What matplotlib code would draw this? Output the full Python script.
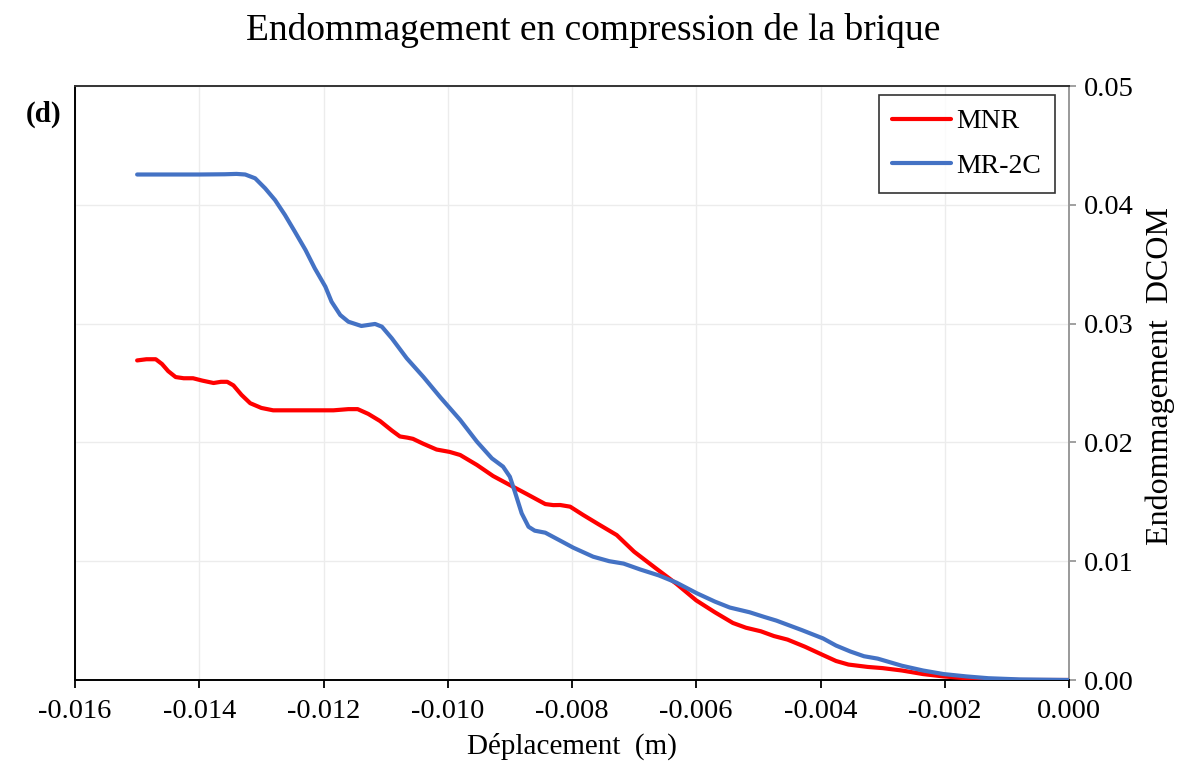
import matplotlib
matplotlib.use("Agg")
import matplotlib.pyplot as plt
from matplotlib.ticker import FixedLocator, FormatStrFormatter

plt.rcParams["font.family"] = ["Liberation Serif", "DejaVu Serif"]

# Displacement (m) and compressive damage DCOM for each model
mnr_x = [-0.01500, -0.01485, -0.01470, -0.01460, -0.01450, -0.01438, -0.01425,
         -0.01410, -0.01395, -0.01377, -0.01365, -0.01355, -0.01345, -0.01332,
         -0.01318, -0.01300, -0.01281, -0.01260, -0.01238, -0.01210, -0.01184,
         -0.01160, -0.01145, -0.01128, -0.01109, -0.01090, -0.01077, -0.01065,
         -0.01056, -0.01040, -0.01018, -0.00997, -0.00980, -0.00953, -0.00927,
         -0.00900, -0.00873, -0.00843, -0.00830, -0.00819, -0.00803, -0.00782,
         -0.00758, -0.00728, -0.00700, -0.00665, -0.00632, -0.00600, -0.00570,
         -0.00541, -0.00520, -0.00496, -0.00475, -0.00453, -0.00425, -0.00396,
         -0.00375, -0.00355, -0.00324, -0.00300, -0.00269, -0.00235, -0.00202,
         -0.00165, -0.00130, -0.00080, 0.0]
mnr_d = [0.0269, 0.0270, 0.0270, 0.0266, 0.0260, 0.0255, 0.0254,
         0.0254, 0.0252, 0.0250, 0.0251, 0.0251, 0.0248, 0.0240,
         0.0233, 0.0229, 0.0227, 0.0227, 0.0227, 0.0227, 0.0227,
         0.0228, 0.0228, 0.0224, 0.0218, 0.0210, 0.0205, 0.0204,
         0.0203, 0.0199, 0.0194, 0.0192, 0.01894, 0.01810, 0.01717,
         0.01641, 0.01566, 0.01481, 0.01472, 0.01473, 0.01459, 0.01389,
         0.01313, 0.0122, 0.0108, 0.0094, 0.0081, 0.0067, 0.0057,
         0.0048, 0.0044, 0.0041, 0.0037, 0.0034, 0.0028, 0.0021,
         0.0016, 0.0013, 0.0011, 0.0010, 0.0008, 0.0005, 0.0003,
         0.00015, 0.00005, 0.0, 0.0]

mr2c_x = [-0.01500, -0.01400, -0.01359, -0.01340, -0.01326, -0.01310, -0.01294,
          -0.01278, -0.01262, -0.01246, -0.01229, -0.01214, -0.01197, -0.01187,
          -0.01173, -0.01160, -0.01139, -0.01117, -0.01106, -0.01090, -0.01066,
          -0.01039, -0.01012, -0.00980, -0.00953, -0.00929, -0.00911, -0.00900,
          -0.00892, -0.00881, -0.00870, -0.00860, -0.00843, -0.00819, -0.00798,
          -0.00766, -0.00740, -0.00717, -0.00690, -0.00660, -0.00632, -0.00599,
          -0.00570, -0.00546, -0.00514, -0.00490, -0.00471, -0.00430, -0.00396,
          -0.00375, -0.00352, -0.00330, -0.00308, -0.00269, -0.00235, -0.00202,
          -0.00165, -0.00130, -0.00080, 0.0]
mr2c_d = [0.04255, 0.04255, 0.04257, 0.04260, 0.04255, 0.04223, 0.04139,
          0.04040, 0.03914, 0.03773, 0.03620, 0.03465, 0.03311, 0.03184,
          0.03072, 0.03016, 0.02980, 0.02997, 0.02974, 0.02876, 0.02708,
          0.0255, 0.0238, 0.02189, 0.02006, 0.01866, 0.01796, 0.01711,
          0.01585, 0.01403, 0.01290, 0.01257, 0.01240, 0.01173, 0.01114,
          0.01038, 0.0100, 0.0098, 0.0093, 0.0088, 0.0082, 0.0073,
          0.0066, 0.0061, 0.0057, 0.0053, 0.0050, 0.0042, 0.0035,
          0.0029, 0.0024, 0.0020, 0.0018, 0.0012, 0.0008, 0.0005,
          0.0003, 0.00015, 0.00005, 0.0]

x_ticks = [-0.016, -0.014, -0.012, -0.010, -0.008, -0.006, -0.004, -0.002, 0.000]
y_ticks = [0.00, 0.01, 0.02, 0.03, 0.04, 0.05]

fig = plt.figure(figsize=(11.78, 7.67), dpi=100)
ax = fig.add_axes([75 / 1178, 1 - 680 / 767, 994 / 1178, 594 / 767])

ax.plot(mnr_x, mnr_d, color="#FF0000", lw=3.0, label="MNR",
        solid_joinstyle="round", solid_capstyle="round", zorder=3)
ax.plot(mr2c_x, mr2c_d, color="#4472C4", lw=3.0, label="MR-2C",
        solid_joinstyle="round", solid_capstyle="round", zorder=3)

ax.set_xlim(-0.016, 0.0)
ax.set_ylim(0.0, 0.05)
ax.xaxis.set_major_locator(FixedLocator(x_ticks))
ax.yaxis.set_major_locator(FixedLocator(y_ticks))
ax.xaxis.set_major_formatter(FormatStrFormatter("%.3f"))
ax.yaxis.set_major_formatter(FormatStrFormatter("%.2f"))

ax.grid(True, color="#ececec", lw=1.0, zorder=0)
ax.set_axisbelow(True)

# y axis sits on the right
ax.yaxis.tick_right()
ax.yaxis.set_label_position("right")
ax.tick_params(axis="x", direction="out", length=6, width=1.3, colors="black",
               labelsize=20.5, pad=8)
ax.tick_params(axis="y", direction="out", length=5, width=1.3, color="#999999",
               labelcolor="black", labelsize=20.5, pad=6)

for side in ("left", "bottom"):
    ax.spines[side].set_color("black")
    ax.spines[side].set_linewidth(1.4)
ax.spines["top"].set_color("#333333")
ax.spines["top"].set_linewidth(1.4)
ax.spines["right"].set_color("#999999")
ax.spines["right"].set_linewidth(1.4)

ax.set_xlabel("Déplacement  (m)", fontsize=21, labelpad=6)
ax.set_ylabel("Endommagement  DCOM", fontsize=23, rotation=90)
ax.yaxis.set_label_coords((1160 - 75) / 994, (680 - 376) / 594)
ax.yaxis.label.set_verticalalignment("center")
ax.yaxis.label.set_horizontalalignment("center")

fig.text(593 / 1178, 1 - 31 / 767, "Endommagement en compression de la brique",
         ha="center", va="center", fontsize=27)
fig.text(26 / 1178, 1 - 114 / 767, "(d)", ha="left", va="center",
         fontsize=21, fontweight="bold")

leg = ax.legend(loc="upper right", bbox_to_anchor=(0.986, 0.985), fontsize=20,
                frameon=True, fancybox=False, edgecolor="black",
                handlelength=2.1, handletextpad=0.2, borderpad=0.5,
                labelspacing=0.7, borderaxespad=0.0)
leg.get_frame().set_linewidth(1.2)

fig.savefig("out.png", dpi=100, facecolor="white")
